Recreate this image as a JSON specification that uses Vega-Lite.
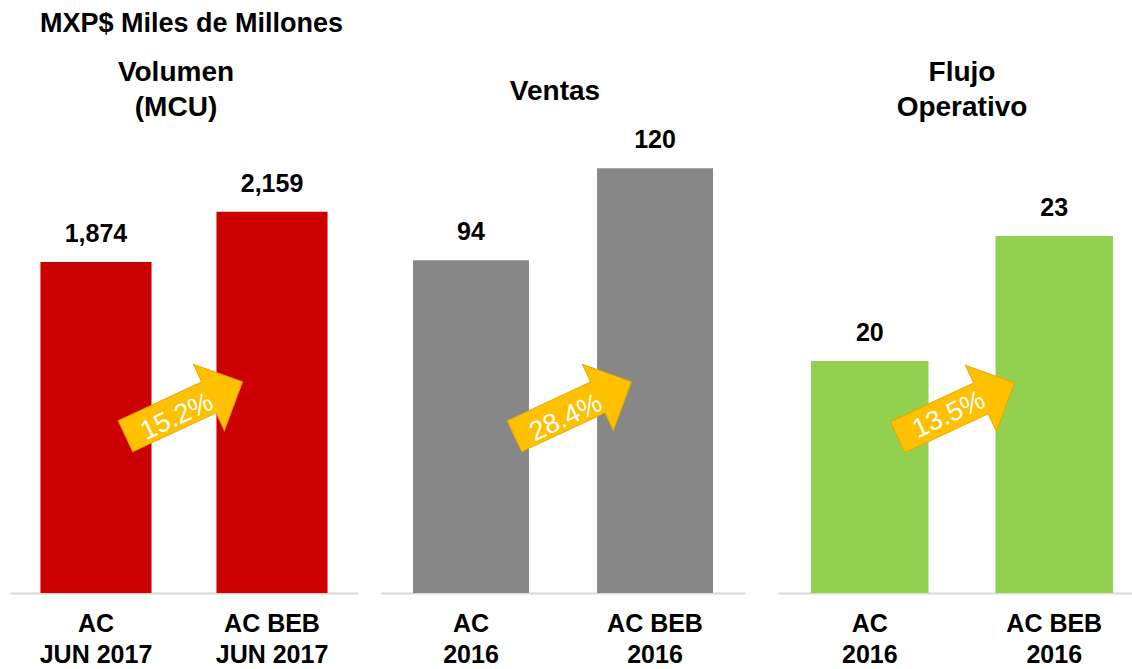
{
  "$schema": "https://vega.github.io/schema/vega-lite/v6.json",
  "padding": {"left": 10, "top": 10, "right": 0, "bottom": 0},
  "background": "white",
  "title": {"text": "MXP$ Miles de Millones", "anchor": "start", "fontSize": 27, "fontWeight": "bold", "color": "black", "dx": 30, "offset": 21, "font": "Liberation Sans"},
  "config": {
    "view": {"stroke": null},
    "font": "Liberation Sans",
    "axisX": {"domainColor": "#D9D9D9", "domainWidth": 2, "ticks": false, "labelFontSize": 25, "labelFontWeight": "bold", "labelColor": "black", "labelPadding": 18, "labelLineHeight": 31, "labelAngle": 0, "labelOverlap": false, "grid": false, "title": null, "labelExpr": "split(datum.label, '|')"},
    "title": {"fontSize": 28, "fontWeight": "bold", "color": "black", "anchor": "middle", "lineHeight": 35}
  },
  "datasets": {
    "bars": [
      {"panel": "Volumen", "cat": "AC|JUN 2017", "value": 1874},
      {"panel": "Volumen", "cat": "AC BEB|JUN 2017", "value": 2159},
      {"panel": "Ventas", "cat": "AC|2016", "value": 94},
      {"panel": "Ventas", "cat": "AC BEB|2016", "value": 120},
      {"panel": "Flujo", "cat": "AC|2016", "value": 20},
      {"panel": "Flujo", "cat": "AC BEB|2016", "value": 23}
    ],
    "growth": [
      {"panel": "Volumen", "pct": "15.2%"},
      {"panel": "Ventas", "pct": "28.4%"},
      {"panel": "Flujo", "pct": "13.5%"}
    ]
  },
  "spacing": 23,
  "hconcat": [
    {
      "width": 348, "height": 450,
      "title": {"text": ["Volumen", "(MCU)"], "offset": 21, "dx": -8},
      "layer": [
        {
          "data": {"name": "bars"},
          "transform": [{"filter": "datum.panel == 'Volumen'"}],
          "encoding": {
            "x": {"field": "cat", "type": "nominal", "sort": null, "scale": {"paddingInner": 0.369, "paddingOuter": 0.173, "align": 0.5}},
            "y": {"field": "value", "type": "quantitative", "axis": null, "scale": {"domain": [0, 2548], "nice": false}}
          },
          "layer": [
            {"mark": {"type": "bar", "color": "#CC0000"}},
            {"mark": {"type": "text", "fontSize": 25, "fontWeight": "bold", "color": "black", "baseline": "alphabetic", "dy": -20}, "encoding": {"text": {"field": "value", "type": "quantitative", "format": ",.0f"}}}
          ]
        },
        {
          "data": {"name": "growth"},
          "transform": [{"filter": "datum.panel == 'Volumen'"}],
          "layer": [
            {"mark": {"type": "point", "shape": "M-1,-0.264L0.426,-0.264L0.426,-0.566L1,0L0.426,0.566L0.426,0.264L-1,0.264Z", "size": 16641, "angle": 335, "filled": true, "color": "#FFC000", "opacity": 1, "stroke": "#E6A800", "strokeWidth": 1, "yOffset": 41}, "encoding": {}},
            {"mark": {"type": "text", "fontSize": 27, "color": "white", "angle": 335, "align": "center", "baseline": "middle", "xOffset": -7, "yOffset": 49}, "encoding": {"text": {"field": "pct"}}}
          ]
        }
      ]
    },
    {
      "spacing": 33,
      "hconcat": [
        {
          "width": 364, "height": 450,
          "title": {"text": "Ventas", "offset": 22, "dx": -8},
          "layer": [
            {
              "data": {"name": "bars"},
              "transform": [{"filter": "datum.panel == 'Ventas'"}],
              "encoding": {
                "x": {"field": "cat", "type": "nominal", "sort": null, "scale": {"paddingInner": 0.37, "paddingOuter": 0.174, "align": 0.5}},
                "y": {"field": "value", "type": "quantitative", "axis": null, "scale": {"domain": [0, 127.1], "nice": false}}
              },
              "layer": [
                {"mark": {"type": "bar", "color": "#878787"}},
                {"mark": {"type": "text", "fontSize": 25, "fontWeight": "bold", "color": "black", "baseline": "alphabetic", "dy": -20}, "encoding": {"text": {"field": "value", "type": "quantitative", "format": ",.0f"}}}
              ]
            },
            {
              "data": {"name": "growth"},
              "transform": [{"filter": "datum.panel == 'Ventas'"}],
              "layer": [
                {"mark": {"type": "point", "shape": "M-1,-0.264L0.426,-0.264L0.426,-0.566L1,0L0.426,0.566L0.426,0.264L-1,0.264Z", "size": 16641, "angle": 335, "filled": true, "color": "#FFC000", "opacity": 1, "stroke": "#E6A800", "strokeWidth": 1, "xOffset": 10, "yOffset": 41}, "encoding": {}},
                {"mark": {"type": "text", "fontSize": 27, "color": "white", "angle": 335, "align": "center", "baseline": "middle", "xOffset": 3, "yOffset": 50}, "encoding": {"text": {"field": "pct"}}}
              ]
            }
          ]
        },
        {
          "width": 354, "height": 450,
          "title": {"text": ["Flujo", "Operativo"], "offset": 21, "dx": 7},
          "layer": [
            {
              "data": {"name": "bars"},
              "transform": [{"filter": "datum.panel == 'Flujo'"}],
              "encoding": {
                "x": {"field": "cat", "type": "nominal", "sort": null, "scale": {"paddingInner": 0.363, "paddingOuter": 0.141, "align": 0.635}},
                "y": {"field": "value", "type": "quantitative", "axis": null, "scale": {"domain": [14.43, 25.23], "nice": false, "zero": false}}
              },
              "layer": [
                {"mark": {"type": "bar", "color": "#92D050", "clip": true}},
                {"mark": {"type": "text", "fontSize": 25, "fontWeight": "bold", "color": "black", "baseline": "alphabetic", "dy": -20}, "encoding": {"text": {"field": "value", "type": "quantitative", "format": ",.0f"}}}
              ]
            },
            {
              "data": {"name": "growth"},
              "transform": [{"filter": "datum.panel == 'Flujo'"}],
              "layer": [
                {"mark": {"type": "point", "shape": "M-1,-0.264L0.426,-0.264L0.426,-0.566L1,0L0.426,0.566L0.426,0.264L-1,0.264Z", "size": 16641, "angle": 335, "filled": true, "color": "#FFC000", "opacity": 1, "stroke": "#E6A800", "strokeWidth": 1, "xOffset": 1, "yOffset": 42}, "encoding": {}},
                {"mark": {"type": "text", "fontSize": 27, "color": "white", "angle": 335, "align": "center", "baseline": "middle", "xOffset": -6, "yOffset": 47}, "encoding": {"text": {"field": "pct"}}}
              ]
            }
          ]
        }
      ]
    }
  ]
}
